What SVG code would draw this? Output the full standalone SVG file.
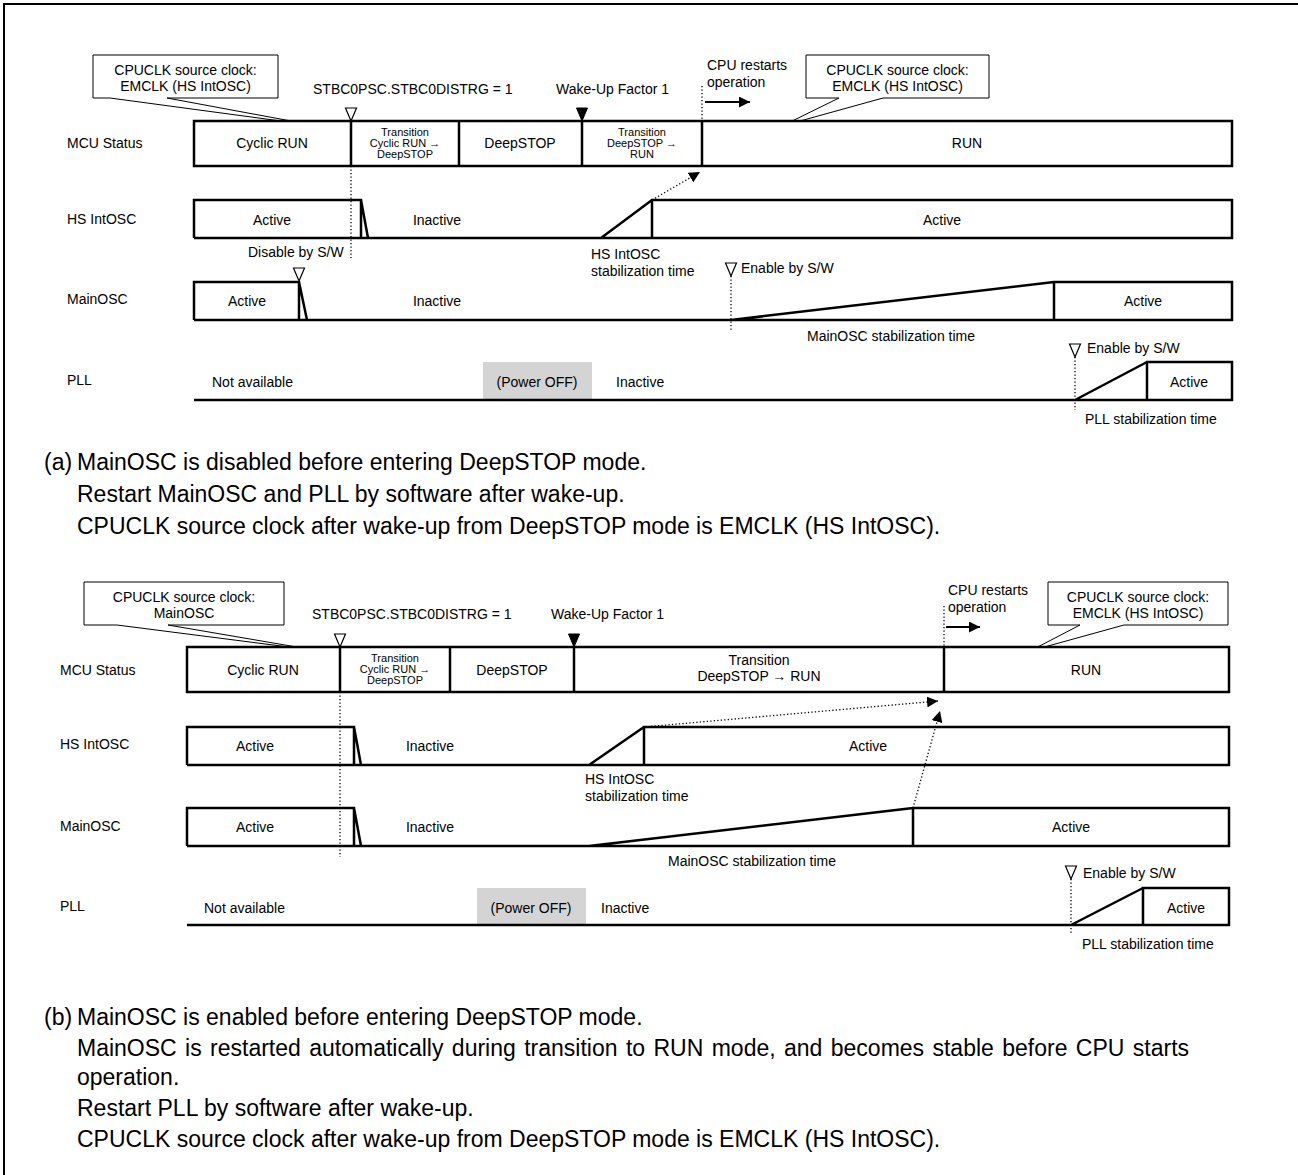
<svg xmlns="http://www.w3.org/2000/svg" width="1298" height="1175" viewBox="0 0 1298 1175">
<style>
text{font-family:"Liberation Sans",Arial,"DejaVu Sans",sans-serif;font-size:14px;fill:#000}
.c{text-anchor:middle}
.s{font-size:11px}
.p{font-size:23px}
.row{fill:none;stroke:#000;stroke-width:2.5;stroke-linejoin:miter}
.cell{fill:#fff;stroke:#000;stroke-width:2.5}
.call{fill:#fff;stroke:#000;stroke-width:1}
.dot{fill:none;stroke:#000;stroke-width:1.3;stroke-dasharray:1.3 2.2}
.gray{fill:#d4d4d4}
</style>
<defs>
<marker id="ah" viewBox="0 0 10 10" refX="10" refY="5" markerWidth="11" markerHeight="11" markerUnits="userSpaceOnUse" orient="auto"><path d="M0,0 L10,5 L0,10 z" fill="#000"/></marker>
<marker id="ah2" viewBox="0 0 10 10" refX="10" refY="5" markerWidth="13" markerHeight="11" markerUnits="userSpaceOnUse" orient="auto"><path d="M0,0 L10,5 L0,10 z" fill="#000"/></marker>
<path id="triO" d="M-5.5,-13 H5.5 L0,0 Z" fill="#fff" stroke="#000" stroke-width="1.2"/>
<path id="triF" d="M-5.5,-13 H5.5 L0,0 Z" fill="#000" stroke="#000" stroke-width="1"/>
</defs>
<rect width="1298" height="1175" fill="#fff"/>
<path d="M4,1175 V4 H1298" fill="none" stroke="#000" stroke-width="2"/>

<!-- ===== (a) ===== -->
<g id="a-labels">
<text x="67" y="148">MCU Status</text>
<text x="67" y="224">HS IntOSC</text>
<text x="67" y="304">MainOSC</text>
<text x="67" y="385">PLL</text>
</g>
<g id="a-callout1">
<path class="call" d="M93,55 H278 V98 H167 L318,126 L110,98 H93 Z"/>
<text class="c" x="185.5" y="75">CPUCLK source clock:</text>
<text class="c" x="185.5" y="91">EMCLK (HS IntOSC)</text>
</g>
<g id="a-callout2">
<path class="call" d="M806,55 H989 V98 H883 L782,126 L839,98 H806 Z"/>
<text class="c" x="897.5" y="75">CPUCLK source clock:</text>
<text class="c" x="897.5" y="91">EMCLK (HS IntOSC)</text>
</g>
<g id="a-events">
<text x="313" y="94">STBC0PSC.STBC0DISTRG = 1</text>
<use href="#triO" x="351" y="121"/>
<text x="556" y="94">Wake-Up Factor 1</text>
<use href="#triF" x="582" y="121"/>
<text x="707" y="70">CPU restarts</text>
<text x="707" y="87">operation</text>
</g>
<g id="a-mcu">
<rect class="cell" x="194" y="121" width="1038" height="45"/>
<path class="row" d="M351,121 V166 M459,121 V166 M582,121 V166 M702,121 V166"/>
<text class="c" x="272" y="148">Cyclic RUN</text>
<text class="c s" x="405" y="136">Transition</text>
<text class="c s" x="405" y="147">Cyclic RUN →</text>
<text class="c s" x="405" y="158">DeepSTOP</text>
<text class="c" x="520" y="148">DeepSTOP</text>
<text class="c s" x="642" y="136">Transition</text>
<text class="c s" x="642" y="147">DeepSTOP →</text>
<text class="c s" x="642" y="158">RUN</text>
<text class="c" x="967" y="148">RUN</text>
</g>
<g id="a-hs">
<path class="row" d="M194,238 V200 H361 V238 M361,200 L368,238 M194,238 H1232 V200 H652 V238 M601,238 L652,200"/>
<text class="c" x="272" y="225">Active</text>
<text class="c" x="437" y="225">Inactive</text>
<text class="c" x="942" y="225">Active</text>
<text x="248" y="257">Disable by S/W</text>
<text x="591" y="259">HS IntOSC</text>
<text x="591" y="276">stabilization time</text>
</g>
<g id="a-main">
<path class="row" d="M194,320 V282 H299 V320 M299,282 L307,320 M194,320 H1232 V282 H1054 V320 M731,320 L1054,282"/>
<text class="c" x="247" y="306">Active</text>
<text class="c" x="437" y="306">Inactive</text>
<text class="c" x="1143" y="306">Active</text>
<use href="#triO" x="299" y="281"/>
<use href="#triO" x="731" y="276"/>
<text x="741" y="273">Enable by S/W</text>
<text class="c" x="891" y="341">MainOSC stabilization time</text>
</g>
<g id="a-pll">
<rect class="gray" x="483" y="362" width="109" height="37"/>
<path class="row" d="M194,400 H1232 V362 H1147 V400 M1075,400 L1147,362"/>
<text x="212" y="387">Not available</text>
<text class="c" x="537" y="387">(Power OFF)</text>
<text x="616" y="387">Inactive</text>
<text class="c" x="1189" y="387">Active</text>
<use href="#triO" x="1075" y="357"/>
<text x="1087" y="353">Enable by S/W</text>
<text x="1085" y="424">PLL stabilization time</text>
</g>
<g id="a-connectors">
<path class="dot" d="M351,166 V258"/>
<path class="dot" d="M702,86 V121"/>
<path class="dot" d="M731,276 V330"/>
<path class="dot" d="M1075,357 V410"/>
<path class="dot" d="M652,200 L700,172" marker-end="url(#ah)"/>
<path d="M705,102 H750" stroke="#000" stroke-width="2" marker-end="url(#ah2)"/>
</g>
<g id="a-note">
<text class="p" x="44" y="470">(a)</text>
<text class="p" x="77" y="470">MainOSC is disabled before entering DeepSTOP mode.</text>
<text class="p" x="77" y="502">Restart MainOSC and PLL by software after wake-up.</text>
<text class="p" x="77" y="534">CPUCLK source clock after wake-up from DeepSTOP mode is EMCLK (HS IntOSC).</text>
</g>

<!-- ===== (b) ===== -->
<g id="b-labels">
<text x="60" y="675">MCU Status</text>
<text x="60" y="749">HS IntOSC</text>
<text x="60" y="831">MainOSC</text>
<text x="60" y="911">PLL</text>
</g>
<g id="b-callout1">
<path class="call" d="M84,582 H284 V625 H168 L320,651 L117,625 H84 Z"/>
<text class="c" x="184" y="602">CPUCLK source clock:</text>
<text class="c" x="184" y="618">MainOSC</text>
</g>
<g id="b-callout2">
<path class="call" d="M1048,582 H1228 V625 H1124 L1030,651 L1080,625 H1048 Z"/>
<text class="c" x="1138" y="602">CPUCLK source clock:</text>
<text class="c" x="1138" y="618">EMCLK (HS IntOSC)</text>
</g>
<g id="b-events">
<text x="312" y="619">STBC0PSC.STBC0DISTRG = 1</text>
<use href="#triO" x="340" y="647"/>
<text x="551" y="619">Wake-Up Factor 1</text>
<use href="#triF" x="574" y="647"/>
<text x="948" y="595">CPU restarts</text>
<text x="948" y="612">operation</text>
</g>
<g id="b-mcu">
<rect class="cell" x="187" y="647" width="1042" height="45"/>
<path class="row" d="M340,647 V692 M450,647 V692 M574,647 V692 M944,647 V692"/>
<text class="c" x="263" y="675">Cyclic RUN</text>
<text class="c s" x="395" y="662">Transition</text>
<text class="c s" x="395" y="673">Cyclic RUN →</text>
<text class="c s" x="395" y="684">DeepSTOP</text>
<text class="c" x="512" y="675">DeepSTOP</text>
<text class="c" x="759" y="665">Transition</text>
<text class="c" x="759" y="681">DeepSTOP → RUN</text>
<text class="c" x="1086" y="675">RUN</text>
</g>
<g id="b-hs">
<path class="row" d="M187,765 V727 H354 V765 M354,727 L361,765 M187,765 H1229 V727 H644 V765 M589,765 L644,727"/>
<text class="c" x="255" y="751">Active</text>
<text class="c" x="430" y="751">Inactive</text>
<text class="c" x="868" y="751">Active</text>
<text x="585" y="784">HS IntOSC</text>
<text x="585" y="801">stabilization time</text>
</g>
<g id="b-main">
<path class="row" d="M187,846 V808 H354 V846 M354,808 L361,846 M187,846 H1229 V808 H913 V846 M589,846 L913,808"/>
<text class="c" x="255" y="832">Active</text>
<text class="c" x="430" y="832">Inactive</text>
<text class="c" x="1071" y="832">Active</text>
<text class="c" x="752" y="866">MainOSC stabilization time</text>
</g>
<g id="b-pll">
<rect class="gray" x="477" y="888" width="109" height="36"/>
<path class="row" d="M187,925 H1229 V888 H1143 V925 M1071,925 L1143,888"/>
<text x="204" y="913">Not available</text>
<text class="c" x="531" y="913">(Power OFF)</text>
<text x="601" y="913">Inactive</text>
<text class="c" x="1186" y="913">Active</text>
<use href="#triO" x="1071" y="879"/>
<text x="1083" y="878">Enable by S/W</text>
<text x="1082" y="949">PLL stabilization time</text>
</g>
<g id="b-connectors">
<path class="dot" d="M340,692 V857"/>
<path class="dot" d="M944,606 V647"/>
<path class="dot" d="M1071,879 V933"/>
<path class="dot" d="M644,727 L938,701" marker-end="url(#ah)"/>
<path class="dot" d="M913,808 L940,711" marker-end="url(#ah)"/>
<path d="M946,627 H980" stroke="#000" stroke-width="2" marker-end="url(#ah2)"/>
</g>
<g id="b-note">
<text class="p" x="44" y="1025">(b)</text>
<text class="p" x="77" y="1025">MainOSC is enabled before entering DeepSTOP mode.</text>
<text class="p" x="77" y="1056" word-spacing="2">MainOSC is restarted automatically during transition to RUN mode, and becomes stable before CPU starts</text>
<text class="p" x="77" y="1085">operation.</text>
<text class="p" x="77" y="1116">Restart PLL by software after wake-up.</text>
<text class="p" x="77" y="1147">CPUCLK source clock after wake-up from DeepSTOP mode is EMCLK (HS IntOSC).</text>
</g>
</svg>
